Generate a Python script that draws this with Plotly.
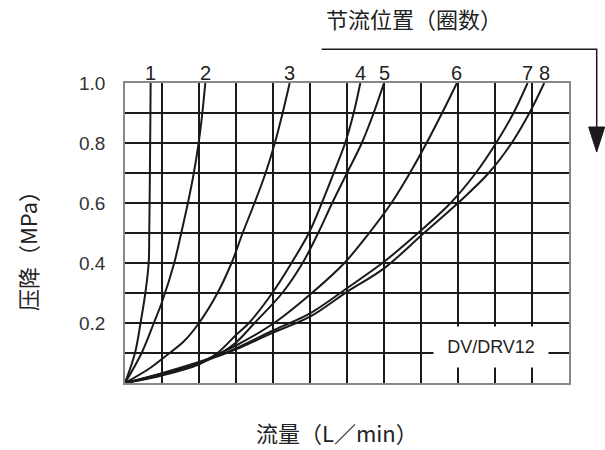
import plotly.graph_objects as go

# ---------------- data (flow L/min vs pressure drop MPa) ----------------
turns = ["1", "2", "3", "4", "5", "6", "7", "8"]

flow_1 = [0, 0.27, 0.42, 0.55, 0.64, 0.655, 0.665, 0.673, 0.68, 0.687, 0.693]
dp_1 = [0, 0.1, 0.2, 0.3, 0.4, 0.5, 0.6, 0.7, 0.8, 0.9, 1.0]

flow_2 = [0, 0.45, 0.78, 1.0, 1.33, 1.52, 1.7, 1.86, 1.99, 2.09, 2.17]
dp_2 = [0, 0.1, 0.2, 0.27, 0.4, 0.5, 0.6, 0.7, 0.8, 0.9, 1.0]

flow_3 = [0, 0.68, 1.1, 1.6, 2.0, 2.5, 2.88, 3.18, 3.5, 3.8, 4.05, 4.26, 4.45]
dp_3 = [0, 0.05, 0.09, 0.14, 0.2, 0.3, 0.4, 0.5, 0.6, 0.7, 0.8, 0.9, 1.0]

flow_4 = [0, 1, 2, 2.5, 3, 3.35, 3.98, 4.5, 4.97, 5.32, 5.64, 5.95, 6.18, 6.36]
dp_4 = [0, 0.025, 0.062, 0.1, 0.16, 0.2, 0.3, 0.4, 0.5, 0.6, 0.7, 0.8, 0.9, 1.0]

flow_5 = [0, 1, 2, 2.6, 3, 3.5, 4.25, 4.8, 5.22, 5.6, 6.0, 6.4, 6.72, 7.0]
dp_5 = [0, 0.027, 0.063, 0.1, 0.135, 0.2, 0.3, 0.4, 0.5, 0.6, 0.7, 0.8, 0.9, 1.0]

flow_6 = [0, 1, 2, 2.57, 3, 4.03, 5.05, 5.93, 6.6, 7.2, 7.7, 8.15, 8.57, 8.97]
dp_6 = [0, 0.03, 0.068, 0.1, 0.125, 0.2, 0.3, 0.4, 0.5, 0.6, 0.7, 0.8, 0.9, 1.0]

flow_7 = [0, 1, 2, 2.6, 3, 4, 5, 6, 7, 7.92, 8.8, 9.48, 10.03, 10.5, 10.88]
dp_7 = [0, 0.033, 0.07, 0.095, 0.115, 0.175, 0.232, 0.316, 0.404, 0.5, 0.6, 0.7, 0.8, 0.9, 1.0]

flow_8 = [0, 1, 2, 2.6, 3, 4, 5, 6, 7, 8.08, 9.0, 9.83, 10.45, 10.93, 11.33]
dp_8 = [0, 0.032, 0.068, 0.093, 0.112, 0.168, 0.221, 0.304, 0.382, 0.5, 0.6, 0.7, 0.8, 0.9, 1.0]

y_tick_vals = [0.1, 0.2, 0.3, 0.4, 0.5, 0.6, 0.7, 0.8, 0.9, 1.0]
y_tick_text = ["", "0.2", "", "0.4", "", "0.6", "", "0.8", "", "1.0"]

model_label = "DV/DRV12"
x_title = "流量（L／min）"
y_title = "压降（MPa）"
top_title = "节流位置（圈数）"

# ---------------- layout geometry ----------------
W, H = 605, 450
L, R, T, B = 125, 36, 83, 67
PW, PH = W - L - R, H - T - B


def px(x):
    return (x - L) / PW


def py(y):
    return (H - B - y) / PH


LATIN = "Liberation Sans, Arial, sans-serif"
CJK = "Noto Sans CJK SC, sans-serif"

flows = [flow_1, flow_2, flow_3, flow_4, flow_5, flow_6, flow_7, flow_8]
dps = [dp_1, dp_2, dp_3, dp_4, dp_5, dp_6, dp_7, dp_8]

fig = go.Figure()
for name, fx, dy in zip(turns, flows, dps):
    fig.add_trace(go.Scatter(
        x=fx, y=dy, mode="lines", name=name,
        line=dict(color="#1a1a1a", width=2, shape="spline", smoothing=1.0),
        showlegend=False, hoverinfo="skip",
    ))

annotations = []
# curve number labels at the top end of each curve
for name, fx, dy in zip(turns, flows, dps):
    annotations.append(dict(
        x=fx[-1], y=dy[-1], xref="x", yref="y", text=name, showarrow=False,
        xanchor="center", yanchor="bottom", yshift=-3,
        font=dict(family=LATIN, size=20, color="#222"),
    ))

annotations += [
    dict(x=px(491), y=py(347), xref="paper", yref="paper", text=model_label,
         showarrow=False, bgcolor="white", width=112, height=38,
         xanchor="center", yanchor="middle",
         font=dict(family=LATIN, size=18, color="#222")),
    dict(x=px(337), y=py(432), xref="paper", yref="paper", text=x_title,
         showarrow=False, xanchor="center", yanchor="middle",
         font=dict(family=CJK, size=22, color="#222")),
    dict(x=px(27), y=py(246), xref="paper", yref="paper", text=y_title,
         showarrow=False, textangle=-90, xanchor="center", yanchor="middle",
         font=dict(family=CJK, size=22, color="#222")),
    dict(x=px(414), y=py(18), xref="paper", yref="paper", text=top_title,
         showarrow=False, xanchor="center", yanchor="middle",
         font=dict(family=CJK, size=22, color="#222")),
]

shapes = [
    dict(type="path", xref="paper", yref="paper",
         path=f"M {px(321.7)},{py(49.3)} L {px(596.7)},{py(49.3)} L {px(596.7)},{py(132)}",
         line=dict(color="#1a1a1a", width=1.5)),
    dict(type="path", xref="paper", yref="paper",
         path=f"M {px(588.7)},{py(127)} L {px(604.7)},{py(127)} L {px(596.7)},{py(152)} Z",
         fillcolor="#1a1a1a", line=dict(color="#1a1a1a", width=1)),
]

fig.update_layout(
    width=W, height=H,
    margin=dict(l=L, r=R, t=T, b=B, pad=0),
    paper_bgcolor="white", plot_bgcolor="white",
    annotations=annotations, shapes=shapes,
    xaxis=dict(range=[0, 12], dtick=1, tick0=0, showticklabels=False,
               showgrid=True, gridcolor="#1a1a1a", gridwidth=2.2,
               zeroline=False, showline=True, linecolor="#888", linewidth=1.5,
               mirror=True, ticks="", fixedrange=True),
    yaxis=dict(range=[0, 1.0], tickmode="array", tickvals=y_tick_vals,
               ticktext=y_tick_text, showgrid=True, gridcolor="#1a1a1a",
               gridwidth=2.2, zeroline=False, showline=True, linecolor="#888",
               linewidth=1.5, mirror=True, ticks="", ticklabelstandoff=14,
               tickfont=dict(family=LATIN, size=19, color="#333"), fixedrange=True),
)

fig.write_html(
    "out.html",
    config={"displayModeBar": False},
    post_script="document.body.style.margin='0';document.body.style.overflow='hidden';",
)
